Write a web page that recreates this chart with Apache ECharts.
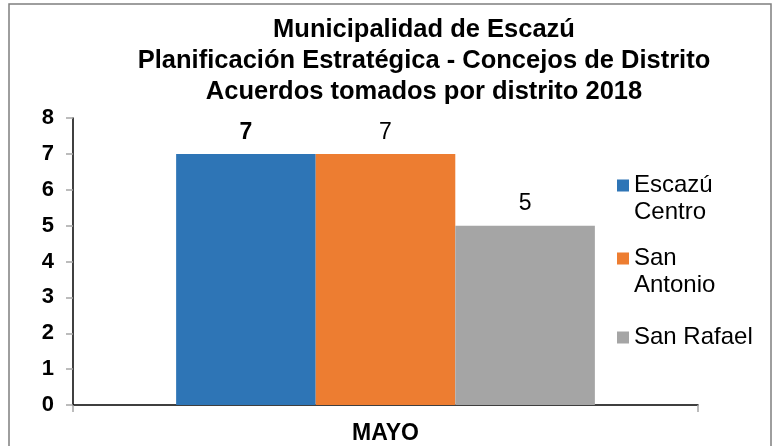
<!DOCTYPE html>
<html>
<head>
<meta charset="utf-8">
<script src="https://cdn.jsdelivr.net/npm/echarts@6/dist/echarts.min.js"></script>
<style>
  html, body { margin: 0; padding: 0; background: #fff; }
  #main { width: 777px; height: 446px; }
</style>
</head>
<body>
<div id="main"></div>
<script>
// datos
var categories = ['MAYO'];
var seriesNames = ['Escazú Centro', 'San Antonio', 'San Rafael'];
var legendLabels = ['Escazú\nCentro', 'San\nAntonio', 'San Rafael'];
var escazuCentro = [7];
var sanAntonio = [7];
var sanRafael = [5];
var yTicks = [0, 1, 2, 3, 4, 5, 6, 7, 8];
var titleLines = [
  'Municipalidad de Escazú',
  'Planificación Estratégica - Concejos de Distrito',
  'Acuerdos tomados por distrito 2018'
];

var FONT = "'Liberation Sans', Arial, sans-serif";
var colors = ['#2E75B6', '#ED7D31', '#A5A5A5'];

// icono cuadrado arriba (texto en dos líneas) o centrado (una línea)
var iconTop = 'path://M0,0h10v10h-10zM0,32.49h0.01v0.01h-0.01z';
var iconMid = 'path://M0,0h0.01v0.01h-0.01zM0,11.25h10v10h-10zM0,32.49h0.01v0.01h-0.01z';

var chart = echarts.init(document.getElementById('main'));

function barSeries(i, values, bold) {
  return {
    name: seriesNames[i],
    type: 'bar',
    data: values,
    barGap: '0%',
    barCategoryGap: '33%',
    itemStyle: { color: colors[i] },
    label: {
      show: true,
      position: 'top',
      distance: 10,
      fontFamily: FONT,
      fontSize: 23,
      fontWeight: bold ? 'bold' : 'normal',
      color: '#000'
    }
  };
}

var option = {
  animation: false,
  backgroundColor: '#fff',
  title: {
    text: titleLines.join('\n'),
    left: 424,          // centro del título (textAlign center)
    top: 14,
    padding: 0,
    textAlign: 'center',
    textStyle: {
      fontFamily: FONT,
      fontSize: 25.5,
      fontWeight: 'bold',
      lineHeight: 31,
      color: '#000'
    }
  },
  legend: {
    orient: 'vertical',
    left: 617,
    top: 172,
    padding: 0,
    itemGap: 19,
    itemWidth: 12,
    itemHeight: 39,
    data: [
      { name: seriesNames[0], icon: iconTop },
      { name: seriesNames[1], icon: iconTop },
      { name: seriesNames[2], icon: iconMid }
    ],
    formatter: function (name) {
      return legendLabels[seriesNames.indexOf(name)];
    },
    textStyle: {
      fontFamily: FONT,
      fontSize: 24,
      lineHeight: 27,
      color: '#000'
    }
  },
  grid: { left: 73, right: 79, top: 118, bottom: 41, containLabel: false },
  xAxis: {
    type: 'category',
    data: categories,
    axisLine: { lineStyle: { color: '#000', width: 1.5 } },
    axisTick: { show: true, length: 7, lineStyle: { color: '#A6A6A6', width: 1.5 } },
    axisLabel: {
      margin: 17,
      fontFamily: FONT,
      fontSize: 23,
      fontWeight: 'bold',
      color: '#000'
    }
  },
  yAxis: {
    type: 'value',
    min: yTicks[0],
    max: yTicks[yTicks.length - 1],
    interval: 1,
    splitLine: { show: false },
    axisLine: { show: true, lineStyle: { color: '#000', width: 1.5 } },
    axisTick: { show: true, length: 7, lineStyle: { color: '#A6A6A6', width: 1.5 } },
    axisLabel: {
      margin: 19,
      fontFamily: FONT,
      fontSize: 22,
      fontWeight: 'bold',
      color: '#000'
    }
  },
  graphic: [{
    type: 'rect',
    silent: true,
    shape: { x: 9, y: 4, width: 762, height: 470 },
    style: { fill: 'none', stroke: '#7F7F7F', lineWidth: 1.5 }
  }],
  series: [
    barSeries(0, escazuCentro, true),
    barSeries(1, sanAntonio, false),
    barSeries(2, sanRafael, false)
  ]
};

chart.setOption(option);
</script>
</body>
</html>
